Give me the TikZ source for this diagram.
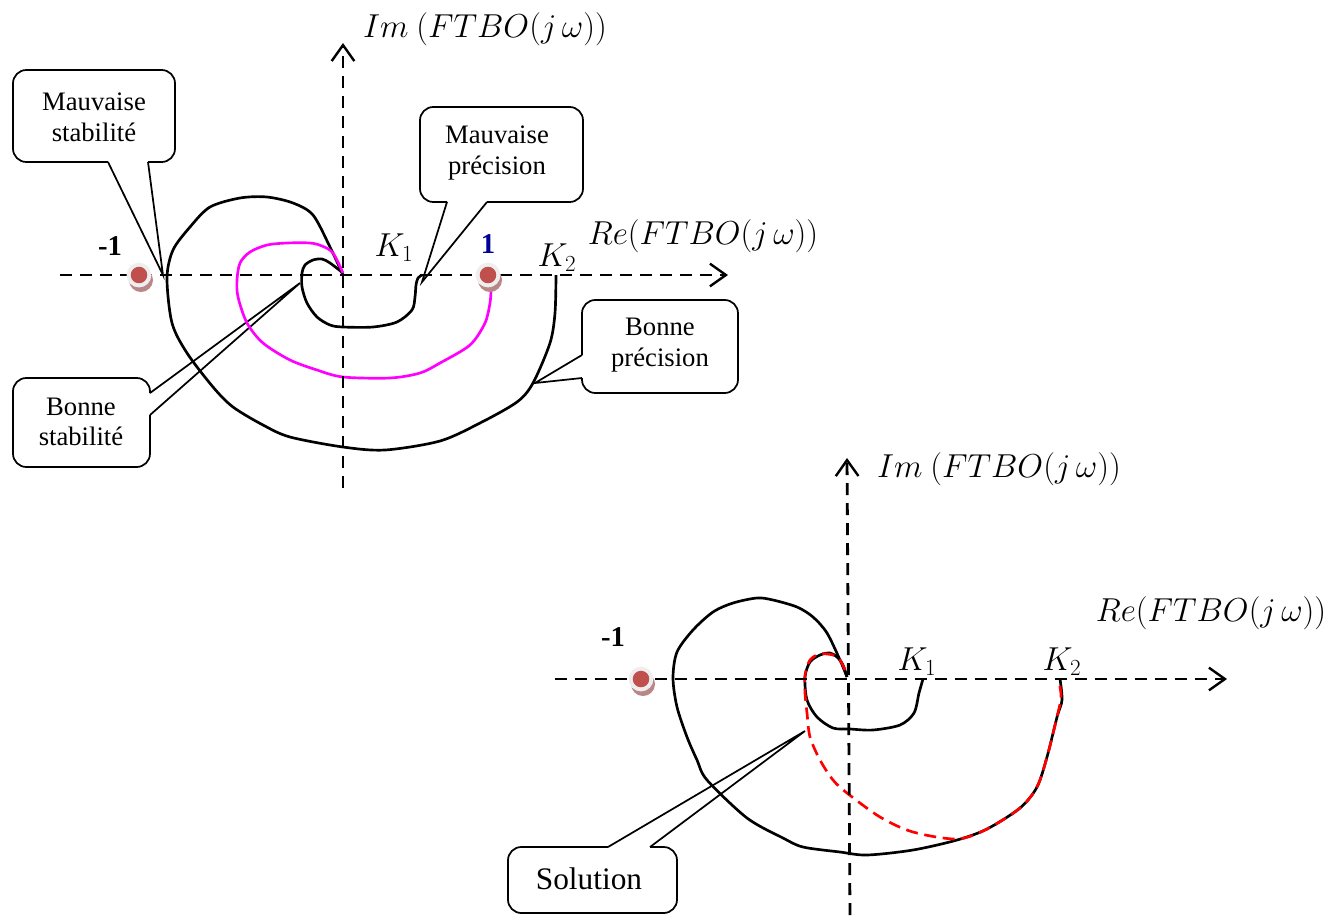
\documentclass[tikz,border=0pt]{standalone}
\usepackage{fontspec}
\setmainfont{Liberation Serif}
\usetikzlibrary{arrows.meta}

\definecolor{poledot}{RGB}{192,80,77}
\definecolor{polering}{RGB}{238,238,238}
\definecolor{poleshade}{RGB}{185,135,135}
\definecolor{navyone}{RGB}{0,0,150}
\definecolor{locusmag}{RGB}{255,0,255}
\definecolor{locusred}{RGB}{255,0,0}

\tikzset{
  axis/.style={line width=2.1pt, dash pattern=on 9pt off 6pt,
    -{Straight Barb[length=12pt,width=17pt,line width=1.8pt]}},
  nyq/.style={line width=2.0pt, line join=round},
  nyqmag/.style={line width=2.0pt, locusmag, line join=round},
  nyqred/.style={line width=2.0pt, locusred, dash pattern=on 9pt off 5pt},
  boxline/.style={line width=1.3pt, rounded corners=10pt},
  tailline/.style={line width=1.3pt, line join=miter},
  boxtext/.style={font=\fontsize{20}{23}\selectfont, align=center, inner sep=0pt},
  mathlbl/.style={font=\fontsize{23.5}{28}\selectfont, inner sep=0pt},
  klbl/.style={font=\fontsize{23}{26}\selectfont, inner sep=0pt},
  numlbl/.style={font=\fontsize{21.5}{24}\selectfont\bfseries, inner sep=0pt},
  pole/.pic={
    \fill[poleshade] (2,5) circle[radius=9pt];
    \fill[polering] (0,0) circle[radius=9.3pt];
    \fill[poledot] (0,0) circle[radius=6.2pt];
  }
}

\begin{document}
\begin{tikzpicture}[x=0.75pt,y=-0.75pt]
\useasboundingbox (0,0) rectangle (1331,915);

% ---------------- upper plane ----------------
\coordinate (a1w) at (60,275);
\coordinate (a1e) at (728,275);
\coordinate (a1s) at (343,488);
\coordinate (a1n) at (343,43);

% callouts of the upper plane
\node[boxtext] (ms) at (94,117) {Mauvaise\\stabilité};
\coordinate (mstip) at (163,275);
\draw[boxline] (108,162) -- (13,162) -- (13,70) -- (175,70) -- (175,162) -- (148,162);
\draw[tailline] (108,162) -- (mstip) -- (148,162);

\node[boxtext] (mp) at (497,153) {Mauvaise\\précision};
\coordinate (mptip) at (422,282);
\draw[boxline] (447,202) -- (420,202) -- (420,107) -- (583,107) -- (583,202) -- (487,202);
\draw[tailline] (447,202) -- (mptip) -- (487,202);

\node[boxtext] (bp) at (660,345) {Bonne\\précision};
\coordinate (bptip) at (535,383);
\draw[boxline] (582,355) -- (582,300) -- (738,300) -- (738,393) -- (582,393) -- (582,378);
\draw[tailline] (582,355) -- (bptip) -- (582,378);

\node[boxtext] (bs) at (81,422) {Bonne\\stabilité};
\coordinate (bstip) at (300,283);
\draw[boxline] (150,393) -- (150,378) -- (13,378) -- (13,467) -- (150,467) -- (150,415);
\draw[tailline] (150,393) -- (bstip) -- (150,415);

% loci of the upper plane
\draw[nyq] plot[smooth,tension=0.5] coordinates {
  (343,275) (330,247) (313,215) (293,203) (267,197) (240,198) (210,207)
  (190,227) (173,250) (167,278) (172,323) (187,353) (213,387) (233,407)
  (263,425) (290,437) (343,447) (385,450) (440,441) (480,423) (517,402)
  (533,383) (550,343) (555,313) (556,275)};
\draw[nyq] plot[smooth,tension=0.5] coordinates {
  (343,273) (330,263) (322,259) (313,260) (305,265) (302,273) (302,287)
  (307,303) (317,317) (330,325) (343,327) (373,327) (397,322) (412,310)
  (415,297) (416,285) (418,278) (422,275)};
\draw[nyqmag] plot[smooth,tension=0.5] coordinates {
  (343,273) (333,253) (322,246) (310,243) (287,243) (267,245) (250,252)
  (240,263) (237,280) (238,297) (247,323) (263,343) (290,360) (317,370)
  (343,377) (390,378) (420,373) (440,363) (470,345) (485,323) (490,303)
  (491,290)};

\draw[axis] (a1w) -- (a1e);
\draw[axis] (a1s) -- (a1n);

\pic at (139,275) {pole};
\pic at (488,275) {pole};

\node[numlbl] (m1a) at (110,246) {-1};
\node[numlbl, text=navyone] (p1a) at (488,244) {1};
\node[klbl] (k1a) at (394,248) {$K_1$};
\node[klbl] (k2a) at (557,258) {$K_2$};
\node[mathlbl] (ima) at (485,29) {$Im\ (FTBO(j\,\omega))$};
\node[mathlbl] (rea) at (703,236) {$Re(FTBO(j\,\omega))$};

% ---------------- lower plane ----------------
\coordinate (a2w) at (555,679);
\coordinate (a2e) at (1227,679);
\coordinate (a2s) at (850,915);
\coordinate (a2n) at (847,458);

\node[boxtext, font=\fontsize{23.5}{27}\selectfont] (sol) at (589,879) {Solution};
\coordinate (soltip) at (805,731);
\draw[boxline] (608,847) -- (508,847) -- (508,913) -- (677,913) -- (677,847) -- (650,847);
\draw[tailline] (608,847) -- (soltip) -- (650,847);

\draw[nyq] plot[smooth,tension=0.5] coordinates {
  (847,677) (840,660) (827,633) (813,617) (797,607) (773,600) (757,598)
  (733,603) (713,612) (693,630) (677,652) (673,678) (677,707) (687,737)
  (697,760) (707,780) (747,818) (783,838) (803,847) (840,852) (867,855)
  (913,850) (957,840) (987,829) (1020,808) (1037,787) (1047,757)
  (1057,717) (1062,700) (1060,679)};
\draw[nyq] plot[smooth,tension=0.5] coordinates {
  (847,677) (843,665) (837,657) (830,653) (820,655) (810,662) (805,677)
  (807,700) (817,717) (833,728) (850,729) (873,730) (900,725) (914,713)
  (919,693) (923,679)};
\draw[nyqred] plot[smooth,tension=0.5] coordinates {
  (845,670) (840,660) (833,655) (820,654) (810,660) (805,675) (805,693)
  (807,713) (810,737) (820,760) (833,780) (847,793) (880,817) (913,832)
  (957,839) (987,829) (1020,808) (1037,787) (1047,757) (1057,717)
  (1061,697) (1059,681)};

\draw[axis] (a2w) -- (a2e);
\draw[axis] (a2s) -- (a2n);

\pic at (641,679) {pole};

\node[numlbl] (m1b) at (613,637) {-1};
\node[klbl] (k1b) at (917,662) {$K_1$};
\node[klbl] (k2b) at (1062,662) {$K_2$};
\node[mathlbl] (imb) at (999,469) {$Im\ (FTBO(j\,\omega))$};
\node[mathlbl] (reb) at (1211,613) {$Re(FTBO(j\,\omega))$};
\end{tikzpicture}
\end{document}
